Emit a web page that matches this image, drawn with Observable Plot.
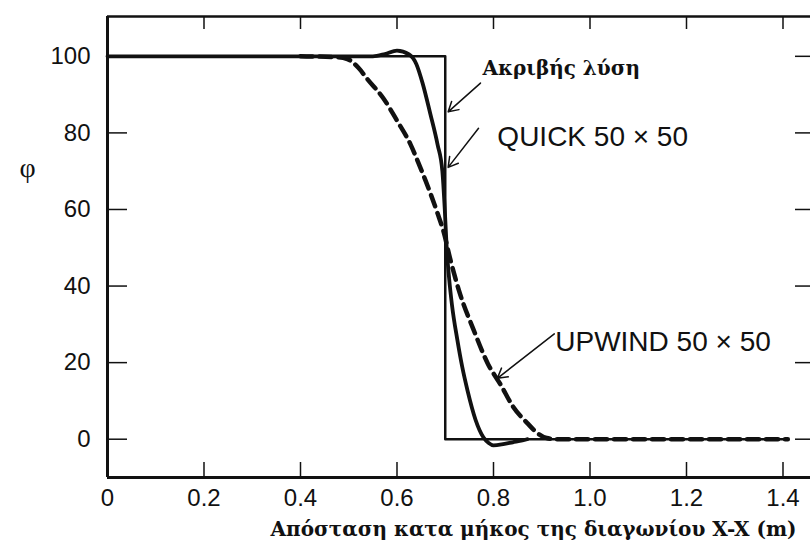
<!DOCTYPE html>
<html>
<head>
<meta charset="utf-8">
<script src="https://cdn.jsdelivr.net/npm/d3@7"></script>
<script src="https://cdn.jsdelivr.net/npm/@observablehq/plot@0.6"></script>
<style>
  html, body { margin: 0; padding: 0; background: #fff; }
  #chart { width: 810px; height: 549px; overflow: hidden; }
</style>
</head>
<body>
<div id="chart"></div>
<script>
// ---- data ----
const xTicks = [0, 0.2, 0.4, 0.6, 0.8, 1.0, 1.2, 1.4];
const yTicks = [0, 20, 40, 60, 80, 100];

const exactX = [0, 0.7, 0.7, 1.41];
const exactY = [100, 100, 0, 0];

const quickX = [0, 0.55, 0.575, 0.60, 0.625, 0.64, 0.653, 0.669, 0.684, 0.694, 0.699, 0.703, 0.708, 0.714, 0.725, 0.735, 0.746, 0.763, 0.779, 0.79, 0.80, 0.82, 0.84, 0.86, 0.87];
const quickY = [100, 100, 100.6, 101.5, 100.5, 98, 93, 85, 77, 70, 60, 50, 42, 35, 26, 19, 12.8, 5, 0.5, -1.0, -1.6, -1.3, -0.8, -0.3, 0];

const upwindX = [0.40, 0.47, 0.497, 0.52, 0.539, 0.572, 0.601, 0.628, 0.645, 0.659, 0.684, 0.697, 0.711, 0.728, 0.759, 0.788, 0.815, 0.841, 0.870, 0.891, 0.91, 0.93, 1.41];
const upwindY = [100, 99.8, 99.3, 97, 94, 89, 83, 77, 72, 67.6, 59, 54, 46.7, 39, 28.5, 19.8, 14.2, 8.4, 4.2, 1.6, 0.3, 0, 0];

const labelExact = "Ακριβής λύση";
const labelQuick = "QUICK 50 × 50";
const labelUpwind = "UPWIND 50 × 50";
const xTitle = "Απόσταση κατα μήκος της διαγωνίου X-X (m)";
const yTitle = "φ";

// ---- build ----
const toPts = (xs, ys) => xs.map((x, i) => ({x, y: ys[i]}));
const exact = toPts(exactX, exactY);
const quick = toPts(quickX, quickY);
const upwind = toPts(upwindX, upwindY);

const xDomain = [0, 1.457];
const yDomain = [-10, 110.4];
const W = 810, H = 549, mL = 107, mR = 0, mT = 16, mB = 72;
const plotW = W - mL - mR, plotH = H - mT - mB;

const arrows = [
  {x1: 0.773, y1: 93.0, x2: 0.706, y2: 85.5},
  {x1: 0.769, y1: 81.2, x2: 0.706, y2: 71.0},
  {x1: 0.926, y1: 27.5, x2: 0.808, y2: 15.9}
];

const sans = "'Liberation Sans', Arial, sans-serif";
const serif = "'Liberation Serif', 'Times New Roman', serif";
const wideSerif = "'DejaVu Serif', 'Liberation Serif', serif";

const chart = Plot.plot({
  width: W, height: H,
  marginLeft: mL, marginRight: mR, marginTop: mT, marginBottom: mB,
  style: {fontFamily: sans, fontSize: "24px", color: "#111", background: "#fff"},
  x: {domain: xDomain},
  y: {domain: yDomain},
  marks: [
    // frame (left, bottom, top)
    Plot.ruleX([xDomain[0]], {stroke: "#111", strokeWidth: 3}),
    Plot.ruleY([yDomain[0]], {stroke: "#111", strokeWidth: 3}),
    Plot.ruleY([yDomain[1]], {stroke: "#111", strokeWidth: 2.5}),
    // inner ticks
    Plot.ruleX(xTicks.filter(d => d > 0), {x: d => d, insetTop: plotH - 15, stroke: "#111", strokeWidth: 1.5}),
    Plot.ruleX(xTicks.filter(d => d > 0), {x: d => d, insetBottom: plotH - 13, stroke: "#111", strokeWidth: 1.5}),
    Plot.ruleY(yTicks, {y: d => d, insetRight: plotW - 20, stroke: "#111", strokeWidth: 1.5}),
    Plot.ruleY(yTicks, {y: d => d, insetLeft: plotW - 15, stroke: "#111", strokeWidth: 1.5}),
    // axes labels
    Plot.axisX(xTicks, {anchor: "bottom", tickSize: 0, tickPadding: 11, label: null,
      tickFormat: d => d === 0 ? "0" : d.toFixed(1), fontSize: 24, fontFamily: sans}),
    Plot.axisY(yTicks, {anchor: "left", tickSize: 0, tickPadding: 17, label: null,
      tickFormat: d => String(d), fontSize: 24, fontFamily: sans}),
    // curves
    Plot.line(exact, {x: "x", y: "y", stroke: "#111", strokeWidth: 2.5, curve: "linear"}),
    Plot.line(upwind, {x: "x", y: "y", stroke: "#111", strokeWidth: 4.5, strokeDasharray: "12,7", curve: "monotone-x"}),
    Plot.line(quick, {x: "x", y: "y", stroke: "#111", strokeWidth: 3.8, curve: "monotone-x"}),
    // annotations
    Plot.arrow(arrows, {x1: "x1", y1: "y1", x2: "x2", y2: "y2", stroke: "#111", strokeWidth: 1.5, headLength: 11}),
    Plot.text([labelExact], {x: 0.777, y: 96.9, text: d => d, textAnchor: "start",
      fontFamily: wideSerif, fontWeight: "bold", fontSize: 20, fill: "#111"}),
    Plot.text([labelQuick], {x: 0.808, y: 78.9, text: d => d, textAnchor: "start",
      fontFamily: sans, fontSize: 28, fill: "#111"}),
    Plot.text([labelUpwind], {x: 0.928, y: 25.3, text: d => d, textAnchor: "start",
      fontFamily: sans, fontSize: 28, fill: "#111"}),
    Plot.text([yTitle], {frameAnchor: "left", dx: -88, y: 70.8, text: d => d,
      fontFamily: serif, fontSize: 28, fill: "#111"}),
    Plot.text([xTitle], {frameAnchor: "bottom", x: 0.883, dy: 58, text: d => d,
      fontFamily: wideSerif, fontWeight: "bold", fontSize: 20, fill: "#111"})
  ]
});
document.getElementById("chart").appendChild(chart);
</script>
</body>
</html>
